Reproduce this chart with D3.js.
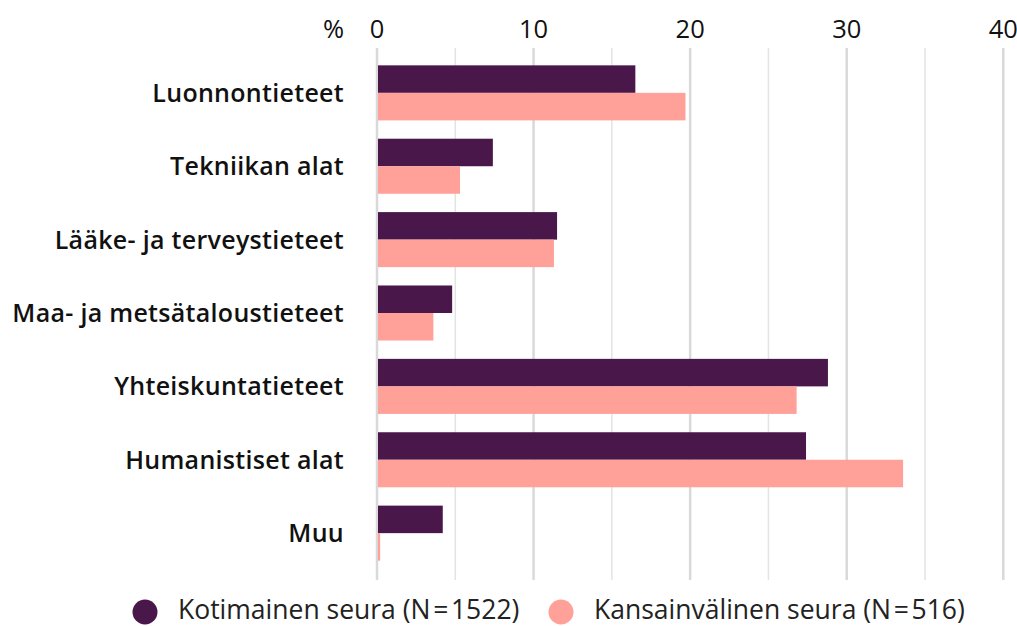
<!DOCTYPE html>
<html><head><meta charset="utf-8">
<script src="https://cdn.jsdelivr.net/npm/d3@7"></script>
<style>body{margin:0;background:#fff;}svg{display:block;font-family:"Open Sans",sans-serif;}</style>
</head><body>
<svg id="c" width="1017" height="626"></svg>
<script>
const categories = ["Luonnontieteet","Tekniikan alat","Lääke- ja terveystieteet","Maa- ja metsätaloustieteet","Yhteiskuntatieteet","Humanistiset alat","Muu"];
const kotimainen = [16.5, 7.4, 11.5, 4.8, 28.8, 27.4, 4.2];
const kansainvalinen = [19.7, 5.3, 11.3, 3.6, 26.8, 33.6, 0.2];
const seriesNames = ["Kotimainen seura (N\u200A=\u200A1522)", "Kansainvälinen seura (N\u200A=\u200A516)"];
const colors = ["#4a174b", "#ffa099"];
const tickValues = [0, 10, 20, 30, 40];
const gridValues = [0, 5, 10, 15, 20, 25, 30, 35, 40];

const svg = d3.select("#c");
const x = d3.scaleLinear().domain([0, 40]).range([377, 1003.3]);
const y = d3.scaleBand().domain(categories).range([58, 568]).paddingInner(0.25).paddingOuter(0.1);
svg.append("g").selectAll("line").data(gridValues).join("line")
  .attr("x1", d => x(d)).attr("x2", d => x(d)).attr("y1", 48).attr("y2", 580)
  .attr("stroke", d => d % 10 === 0 ? "#d9d9d9" : "#e3e3e3")
  .attr("stroke-width", d => d % 10 === 0 ? 2.5 : 1.5);
svg.append("g").selectAll("text").data(tickValues).join("text")
  .attr("x", d => x(d)).attr("y", 38).attr("text-anchor", "middle")
  .attr("font-size", 25.5).attr("fill", "#111").text(d => d);
svg.append("text").attr("x", 344).attr("y", 38).attr("text-anchor", "end")
  .attr("font-size", 25.5).attr("fill", "#111").text("%");
const inner = d3.scaleBand().domain([0, 1]).range([0, y.bandwidth()]);
const series = [kotimainen, kansainvalinen];
series.forEach((vals, si) => {
  svg.append("g").selectAll("rect").data(vals).join("rect")
    .attr("x", x(0) + 1).attr("y", (d, i) => y(categories[i]) + inner(si))
    .attr("width", d => x(d) - x(0) - 1).attr("height", inner.bandwidth())
    .attr("fill", colors[si]);
});
svg.append("g").selectAll("text").data(categories).join("text")
  .attr("x", 344).attr("y", d => y(d) + y.bandwidth() / 2 + 9)
  .attr("text-anchor", "end").attr("font-size", 25).attr("font-weight", 600)
  .attr("letter-spacing", 0.3)
  .attr("fill", "#111").text(d => d);
const legX = [145, 561];
seriesNames.forEach((n, i) => {
  svg.append("circle").attr("cx", legX[i]).attr("cy", 612).attr("r", 12.5).attr("fill", colors[i]);
  svg.append("text").attr("x", legX[i] + 33).attr("y", 619).attr("font-size", 26.5)
    .attr("fill", "#222").text(n);
});
</script>
</body></html>
